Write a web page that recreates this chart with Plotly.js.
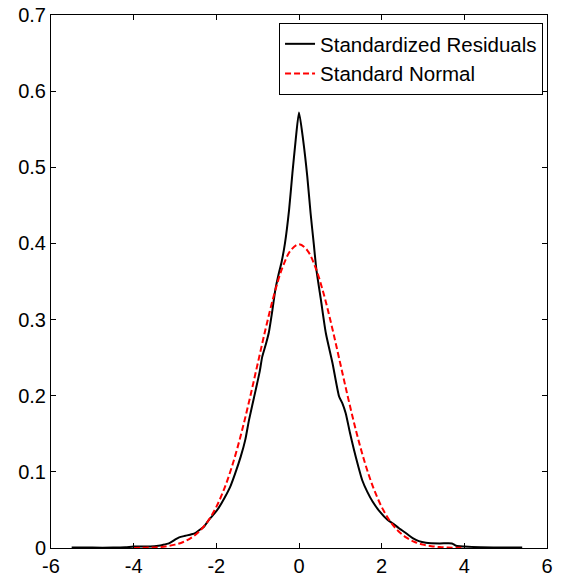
<!DOCTYPE html>
<html>
<head>
<meta charset="utf-8">
<script src="https://cdn.plot.ly/plotly-3.0.1.min.js"></script>
<style>html,body{margin:0;padding:0;background:#fff;}#chart{width:563px;height:578px;}</style>
</head>
<body>
<div id="chart"></div>
<script>
// Standardized residuals (kernel density estimate)
var residX = [-5.5,-5.0,-4.5,-4.2,-4.0,-3.6,-3.4,-3.3,-3.15,-3.0,-2.9,-2.75,-2.6,-2.5,-2.4,-2.3,-2.18,-2.05,-1.94,-1.8,-1.66,-1.55,-1.41,-1.3,-1.21,-1.05,-0.95,-0.89,-0.8,-0.73,-0.65,-0.57,-0.5,-0.42,-0.34,-0.24,-0.16,-0.08,0.0,0.1,0.2,0.28,0.36,0.42,0.53,0.65,0.81,0.97,1.05,1.13,1.23,1.33,1.43,1.53,1.65,1.78,1.95,2.14,2.3,2.42,2.6,2.75,2.9,3.07,3.4,3.7,3.8,4.0,4.4,5.0,5.4];
var residY = [0.0005,0.0005,0.0005,0.001,0.002,0.002,0.003,0.004,0.006,0.011,0.014,0.016,0.018,0.020,0.024,0.028,0.037,0.045,0.053,0.066,0.081,0.097,0.120,0.142,0.168,0.207,0.232,0.251,0.268,0.283,0.310,0.340,0.358,0.376,0.400,0.444,0.492,0.536,0.572,0.536,0.488,0.440,0.398,0.366,0.326,0.282,0.243,0.199,0.190,0.177,0.152,0.129,0.108,0.089,0.074,0.061,0.048,0.037,0.031,0.026,0.019,0.013,0.009,0.007,0.006,0.006,0.003,0.002,0.001,0.0005,0.0005];

// Standard normal density
var normX = [-4.0,-3.8,-3.6,-3.4,-3.2,-3.0,-2.8,-2.6,-2.4,-2.2,-2.0,-1.8,-1.6,-1.4,-1.2,-1.0,-0.8,-0.6,-0.4,-0.2,0.0,0.2,0.4,0.6,0.8,1.0,1.2,1.4,1.6,1.8,2.0,2.2,2.4,2.6,2.8,3.0,3.2,3.4,3.6,3.8,4.0];
var normY = [0.0001,0.0003,0.0006,0.0012,0.0024,0.0044,0.0079,0.0136,0.0224,0.0355,0.0540,0.0790,0.1109,0.1497,0.1942,0.2420,0.2897,0.3332,0.3683,0.3910,0.3989,0.3910,0.3683,0.3332,0.2897,0.2420,0.1942,0.1497,0.1109,0.0790,0.0540,0.0355,0.0224,0.0136,0.0079,0.0044,0.0024,0.0012,0.0006,0.0003,0.0001];

var seriesNames = ['Standardized Residuals', 'Standard Normal'];
var xTicks = [-6,-4,-2,0,2,4,6];
var yTicks = [0,0.1,0.2,0.3,0.4,0.5,0.6,0.7];
var yTickText = ['0','0.1','0.2','0.3','0.4','0.5','0.6','0.7'];

var traces = [
  {x: residX, y: residY, type: 'scatter', mode: 'lines', name: seriesNames[0],
   line: {color: '#000000', width: 2, shape: 'spline', smoothing: 0.6}},
  {x: normX, y: normY, type: 'scatter', mode: 'lines', name: seriesNames[1],
   line: {color: '#ff0000', width: 2, dash: '6px,3px', shape: 'spline'}}
];

var font = {family: 'Liberation Sans, Arial, sans-serif', size: 20, color: '#000'};
var layout = {
  width: 563, height: 578,
  margin: {l: 51, r: 16, t: 15, b: 30, pad: 0},
  paper_bgcolor: '#fff', plot_bgcolor: '#fff',
  font: font,
  showlegend: true,
  legend: {x: 0.992, y: 0.985, xanchor: 'right', yanchor: 'top',
           bgcolor: '#fff', bordercolor: '#000', borderwidth: 1,
           font: {family: 'Liberation Sans, Arial, sans-serif', size: 20.5, color: '#000'}},
  xaxis: {range: [-6, 6], tickvals: xTicks, ticktext: xTicks.map(String),
          showgrid: false, zeroline: false, showline: true, linecolor: '#000', linewidth: 1,
          mirror: 'ticks', ticks: 'inside', ticklen: 5, tickcolor: '#000', tickfont: font},
  yaxis: {range: [0, 0.7], tickvals: yTicks, ticktext: yTickText,
          showgrid: false, zeroline: false, showline: true, linecolor: '#000', linewidth: 1,
          mirror: 'ticks', ticks: 'inside', ticklen: 5, tickcolor: '#000', tickfont: font}
};

Plotly.newPlot('chart', traces, layout, {staticPlot: true, displayModeBar: false});
</script>
</body>
</html>
